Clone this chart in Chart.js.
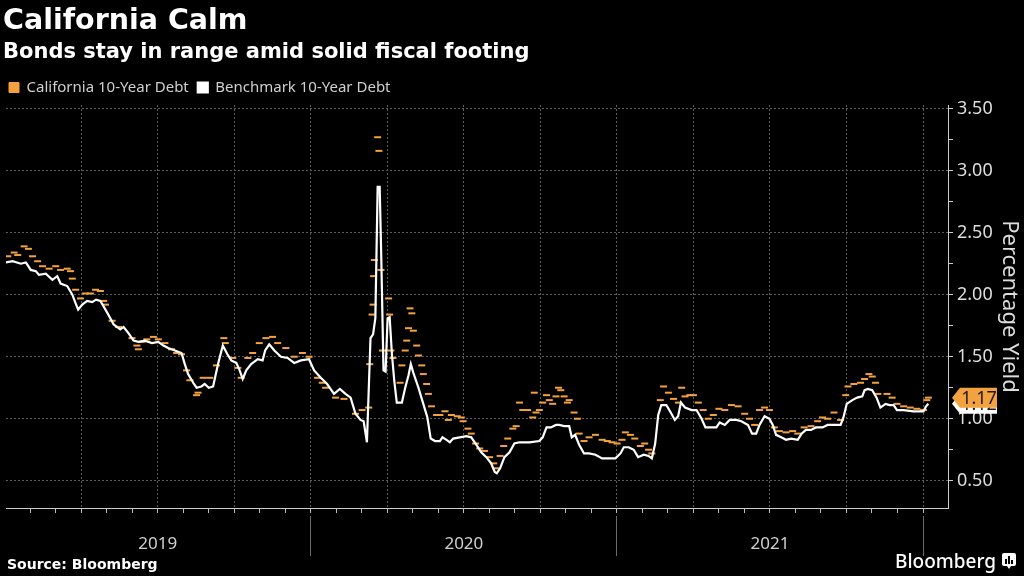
<!DOCTYPE html>
<html>
<head>
<meta charset="utf-8">
<script src="https://cdn.jsdelivr.net/npm/chart.js@4/dist/chart.umd.min.js"></script>
<style>
  html, body { margin: 0; padding: 0; background: #000; }
  body { width: 1024px; height: 576px; position: relative; overflow: hidden; color: #fff; }
  #chart { position: absolute; left: 0; top: 0; }
  .title { position: absolute; left: 3px; top: 3px; font: bold 28.5px "DejaVu Sans", sans-serif; }
  .subtitle { position: absolute; left: 3px; top: 39px; font: bold 21px "DejaVu Sans", sans-serif; }
  .source { position: absolute; left: 7px; top: 556px; font: bold 14px "DejaVu Sans", sans-serif; }
  .logo { position: absolute; left: 895px; top: 548px; font: 500 19px "Noto Sans", sans-serif; display: flex; align-items: center; gap: 6px; }
</style>
</head>
<body>
<canvas id="chart" width="1024" height="576"></canvas>
<div class="title">California Calm</div>
<div class="subtitle">Bonds stay in range amid solid fiscal footing</div>
<div class="source">Source: Bloomberg</div>
<div class="logo">Bloomberg
  <svg width="14" height="16" viewBox="0 0 14 16"><rect x="0" y="0" width="14" height="13" rx="2" fill="#fff"/><path d="M5 13 L7 16 L9 13Z" fill="#fff"/><rect x="3" y="6" width="2" height="5" fill="#000"/><rect x="6" y="3" width="2" height="8" fill="#000"/><rect x="9" y="7" width="2" height="4" fill="#000"/></svg>
</div>
<script>
// x values are months since 1 Jan 2019
const benchMonths = [
  0.05,0.31,0.63,0.83,1.02,1.22,1.34,1.61,1.87,2.06,
  2.19,2.45,2.65,2.78,2.88,3.04,3.23,3.43,3.58,3.75,
  3.95,4.14,4.27,4.53,4.66,4.85,5.05,5.24,5.50,5.77,
  6.02,6.22,6.41,6.67,6.93,7.06,7.19,7.39,7.52,7.71,
  7.84,8.00,8.17,8.36,8.55,8.73,8.88,9.08,9.21,9.33,
  9.47,9.66,9.92,10.11,10.21,10.37,10.57,10.83,11.09,11.35,
  11.61,11.93,12.13,12.39,12.64,12.91,13.14,13.36,13.56,13.75,
  13.95,14.07,14.20,14.34,14.44,14.53,14.62,14.70,14.76,14.85,
  14.93,15.01,15.09,15.18,15.27,15.37,15.57,15.70,15.83,15.92,
  16.02,16.22,16.41,16.57,16.70,16.87,17.06,17.16,17.32,17.45,
  17.58,17.84,18.10,18.29,18.49,18.68,18.88,19.07,19.21,19.29,
  19.42,19.59,19.79,19.98,20.18,20.57,20.96,21.09,21.24,21.41,
  21.61,21.74,21.93,22.13,22.23,22.36,22.52,22.71,22.91,23.16,
  23.42,23.69,23.94,24.14,24.27,24.46,24.66,24.83,25.05,25.24,
  25.37,25.50,25.62,25.74,25.94,26.11,26.27,26.40,26.51,26.67,
  26.93,27.12,27.32,27.47,27.71,27.90,28.03,28.23,28.42,28.68,
  28.88,29.14,29.30,29.46,29.59,29.79,29.98,30.11,30.24,30.44,
  30.63,30.83,31.09,31.24,31.41,31.61,31.80,32.06,32.26,32.51,
  32.77,32.88,33.01,33.23,33.42,33.62,33.71,33.84,34.01,34.18,
  34.33,34.53,34.69,34.85,34.98,35.24,35.63,36.02,36.12,36.21
];
const benchYield = [
  2.26,2.27,2.25,2.26,2.20,2.19,2.16,2.17,2.12,2.15,
  2.09,2.07,2.00,1.93,1.88,1.92,1.95,1.94,1.96,1.95,
  1.88,1.81,1.76,1.72,1.74,1.69,1.63,1.62,1.63,1.61,
  1.62,1.59,1.57,1.55,1.53,1.44,1.36,1.29,1.25,1.26,
  1.28,1.25,1.26,1.44,1.59,1.52,1.47,1.45,1.39,1.32,
  1.39,1.44,1.48,1.47,1.55,1.60,1.55,1.50,1.49,1.45,
  1.47,1.48,1.39,1.33,1.28,1.20,1.24,1.20,1.17,1.04,
  0.99,0.98,0.81,1.65,1.68,1.81,2.87,2.87,2.32,1.39,
  1.38,1.81,1.82,1.52,1.31,1.13,1.13,1.25,1.35,1.44,
  1.37,1.25,1.12,1.01,0.84,0.82,0.82,0.85,0.83,0.81,
  0.84,0.85,0.86,0.85,0.79,0.73,0.69,0.64,0.57,0.56,
  0.60,0.69,0.73,0.80,0.81,0.81,0.82,0.85,0.93,0.93,
  0.95,0.95,0.94,0.94,0.85,0.87,0.79,0.72,0.72,0.71,
  0.68,0.68,0.68,0.72,0.77,0.77,0.75,0.69,0.71,0.70,
  0.68,0.80,1.03,1.11,1.11,1.05,0.99,1.02,1.13,1.09,
  1.07,1.07,1.00,0.93,0.93,0.93,0.97,0.95,0.99,0.99,
  0.98,0.95,0.88,0.88,0.95,1.02,1.00,0.95,0.87,0.85,
  0.83,0.84,0.83,0.88,0.91,0.91,0.93,0.93,0.95,0.95,
  0.95,1.01,1.12,1.15,1.17,1.18,1.23,1.24,1.23,1.17,
  1.09,1.12,1.11,1.11,1.07,1.07,1.06,1.06,1.10,1.12
];
const caliMonths = [
  0.12,0.37,0.51,0.76,0.93,1.09,1.29,1.48,1.74,2.00,
  2.19,2.45,2.58,2.65,2.78,2.97,3.17,3.36,3.56,3.75,
  3.88,3.95,4.21,4.46,4.99,5.18,5.24,5.38,5.57,5.83,
  6.02,6.28,6.54,6.74,6.93,7.13,7.26,7.52,7.58,7.78,
  8.04,8.30,8.59,8.65,8.94,9.14,9.27,9.53,9.72,9.98,
  10.24,10.50,10.70,11.02,11.35,11.67,11.93,12.26,12.45,12.58,
  12.97,13.30,13.75,14.01,14.27,14.31,14.40,14.44,14.46,14.49,
  14.62,14.67,14.75,14.81,15.05,15.09,15.14,15.22,15.50,15.57,
  15.70,15.76,15.83,15.89,15.96,16.02,16.15,16.22,16.35,16.41,
  16.54,16.61,16.73,16.93,17.06,17.26,17.39,17.51,17.74,17.90,
  17.97,18.16,18.29,18.46,18.62,18.81,19.01,19.17,19.27,19.42,
  19.56,19.72,19.92,20.05,20.18,20.31,20.50,20.70,20.76,20.83,
  20.96,21.09,21.24,21.35,21.48,21.61,21.71,21.80,21.93,22.06,
  22.13,22.32,22.45,22.52,22.71,22.91,23.16,23.42,23.62,23.81,
  24.01,24.20,24.33,24.53,24.70,24.92,25.09,25.24,25.37,25.70,
  25.83,26.02,26.22,26.41,26.54,26.67,26.86,27.00,27.19,27.38,
  27.58,27.78,28.00,28.23,28.49,28.75,29.01,29.20,29.40,29.59,
  29.79,29.98,30.17,30.37,30.63,30.89,31.09,31.34,31.61,31.87,
  32.06,32.26,32.51,32.77,32.97,33.06,33.29,33.55,33.71,33.88,
  34.01,34.14,34.23,34.59,34.79,34.98,35.24,35.50,35.76,36.02,
  36.15,36.21
];
const caliYield = [
  2.31,2.34,2.32,2.39,2.37,2.31,2.27,2.23,2.21,2.23,
  2.20,2.21,2.19,2.13,2.04,1.97,2.01,2.01,2.04,2.03,
  1.95,1.92,1.79,1.74,1.65,1.59,1.56,1.62,1.64,1.66,
  1.64,1.61,1.56,1.53,1.52,1.39,1.31,1.19,1.21,1.33,
  1.33,1.43,1.65,1.61,1.49,1.41,1.33,1.49,1.53,1.61,
  1.65,1.66,1.61,1.57,1.50,1.53,1.50,1.33,1.29,1.25,
  1.17,1.16,1.04,1.07,1.09,1.44,1.84,1.92,2.15,2.28,
  3.27,3.16,2.20,1.55,1.97,1.84,1.55,1.49,1.29,1.43,
  1.55,1.63,1.73,1.89,1.85,1.71,1.59,1.51,1.43,1.36,
  1.28,1.20,1.10,1.03,1.03,1.06,0.99,1.03,1.02,1.01,
  0.98,0.92,0.88,0.80,0.76,0.74,0.69,0.64,0.60,0.70,
  0.78,0.84,0.92,0.94,1.13,1.07,1.07,1.01,1.21,1.05,
  1.07,1.13,1.19,1.15,1.12,1.18,1.25,1.23,1.18,1.13,
  1.15,1.05,1.00,0.88,0.82,0.85,0.87,0.83,0.82,0.81,
  0.80,0.83,0.89,0.87,0.84,0.78,0.80,0.75,0.72,1.15,
  1.26,1.21,1.16,1.13,1.25,1.18,1.19,1.19,1.13,1.07,
  1.00,1.03,1.08,1.07,1.11,1.10,1.04,1.00,0.95,1.07,
  1.09,1.07,0.93,0.90,0.89,0.90,0.88,0.93,0.94,0.98,
  1.01,1.00,1.05,0.99,1.19,1.26,1.28,1.29,1.32,1.36,
  1.34,1.29,1.20,1.20,1.17,1.12,1.10,1.09,1.08,1.07,
  1.15,1.17
];

const monthTicks = Array.from({length: 36}, (_, i) => i + 1);
const yearTicks = [6, 18, 30];
const yearNames = ['2019', '2020', '2021'];
const yearBounds = [12, 24, 36];
const yTicks = [0.5, 0.75, 1, 1.25, 1.5, 1.75, 2, 2.25, 2.5, 2.75, 3, 3.25, 3.5];

const ORANGE = '#f4a23f';
const GRID = '#5c5c5c';

function toPoints(xs, ys) {
  return xs.map((x, i) => ({x: x, y: ys[i]}));
}

// price tags on the right axis for the last value of each series
const lastValueTags = {
  id: 'lastValueTags',
  afterDatasetsDraw(chart) {
    const ctx = chart.ctx;
    const yScale = chart.scales.y;
    const tags = [
      {value: benchYield[benchYield.length - 1], fill: '#ffffff'},
      {value: caliYield[caliYield.length - 1], fill: ORANGE}
    ];
    const tip = yScale.left + 4;
    ctx.save();
    tags.forEach(t => {
      const cy = yScale.getPixelForValue(t.value);
      ctx.beginPath();
      ctx.moveTo(tip, cy);
      ctx.lineTo(tip + 8, cy - 10);
      ctx.lineTo(tip + 45, cy - 10);
      ctx.lineTo(tip + 45, cy + 10);
      ctx.lineTo(tip + 8, cy + 10);
      ctx.closePath();
      ctx.fillStyle = t.fill;
      ctx.fill();
      ctx.fillStyle = '#1a1a1a';
      ctx.font = '18px "Noto Sans"';
      ctx.textAlign = 'center';
      ctx.textBaseline = 'middle';
      ctx.fillText(t.value.toFixed(2), tip + 27, cy + 1);
    });
    ctx.restore();
  }
};

Chart.defaults.font.family = 'Noto Sans';

new Chart(document.getElementById('chart').getContext('2d'), {
  type: 'line',
  data: {
    datasets: [{
      label: 'California 10-Year Debt',
      data: toPoints(caliMonths, caliYield),
      showLine: false,
      pointStyle: 'line',
      pointRadius: 3.5,
      pointBorderWidth: 2,
      borderColor: ORANGE,
      backgroundColor: ORANGE,
      borderWidth: 1,
      order: 2
    }, {
      label: 'Benchmark 10-Year Debt',
      data: toPoints(benchMonths, benchYield),
      borderColor: '#ffffff',
      backgroundColor: '#ffffff',
      borderWidth: 2.2,
      pointRadius: 0,
      tension: 0,
      order: 1
    }]
  },
  options: {
    responsive: false,
    animation: false,
    layout: { padding: { top: 71, left: 0, right: 0, bottom: 8 } },
    plugins: {
      legend: {
        position: 'top',
        align: 'start',
        labels: {
          color: '#cfcfcf',
          font: { size: 15 },
          boxWidth: 10,
          boxHeight: 10,
          padding: 9,
          sort: (a, b) => a.datasetIndex - b.datasetIndex
        }
      },
      tooltip: { enabled: false }
    },
    scales: {
      x: {
        type: 'linear',
        position: 'bottom',
        min: 0.05,
        max: 36.98,
        weight: 0,
        afterBuildTicks: s => { s.ticks = monthTicks.map(v => ({value: v})); },
        afterFit: s => { s.height = 8; },
        ticks: { display: false, autoSkip: false },
        grid: {
          color: c => (c.tick && c.tick.value % 3 === 0 ? GRID : 'transparent'),
          tickColor: '#bdbdbd',
          tickLength: 5
        },
        border: { color: '#cccccc', dash: [2, 2] }
      },
      years: {
        type: 'linear',
        position: 'bottom',
        min: 0.05,
        max: 36.98,
        weight: 1,
        afterBuildTicks: s => {
          s.ticks = yearTicks.concat(yearBounds).sort((a, b) => a - b).map(v => ({value: v}));
        },
        afterFit: s => { s.height = 52; },
        ticks: {
          autoSkip: false,
          maxRotation: 0,
          color: '#d0d0d0',
          font: { size: 17 },
          padding: -22,
          callback: v => {
            const i = yearTicks.indexOf(v);
            return i >= 0 ? yearNames[i] : '';
          }
        },
        grid: {
          drawOnChartArea: false,
          color: c => (c.tick && yearBounds.includes(c.tick.value) ? '#6a6a6a' : 'transparent'),
          tickLength: 40
        },
        border: { display: false }
      },
      y: {
        position: 'right',
        min: 0.28,
        max: 3.53,
        afterBuildTicks: s => { s.ticks = yTicks.map(v => ({value: v})); },
        afterFit: s => { s.width = 76; },
        ticks: {
          autoSkip: false,
          color: '#dddddd',
          font: { size: 18 },
          padding: 4,
          callback: v => (Math.round(v * 4) % 2 === 0 ? v.toFixed(2) : '')
        },
        grid: {
          color: c => (c.tick && Math.round(c.tick.value * 4) % 2 === 0 ? GRID : 'transparent'),
          tickColor: '#cccccc',
          tickLength: 5
        },
        border: { color: '#cccccc', dash: [2, 2] },
        title: {
          display: true,
          text: 'Percentage Yield',
          color: '#dddddd',
          font: { size: 22 },
          padding: { top: 2, bottom: 0 }
        }
      }
    }
  },
  plugins: [lastValueTags]
});
</script>
</body>
</html>
